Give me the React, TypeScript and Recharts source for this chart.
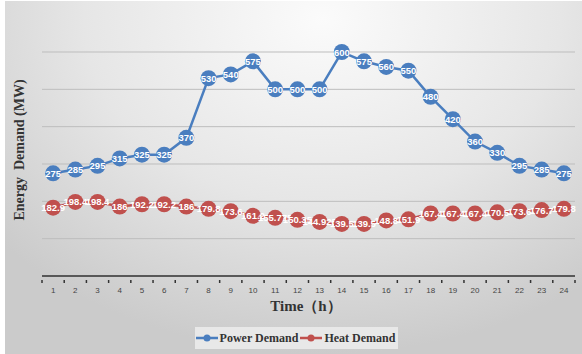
import { CartesianGrid, Line, LineChart, XAxis, YAxis } from "recharts";

const hours = Array.from({ length: 24 }, (_, i) => i + 1);
const powerDemand = [
  275, 285, 295, 315, 325, 325, 370, 530, 540, 575, 500, 500, 500, 600, 575, 560,
  550, 480, 420, 360, 330, 295, 285, 275,
];
const heatDemand = [
  182.9, 198.4, 198.4, 186, 192.2, 192.2, 186, 179.8, 173.6, 161.2, 155.775, 150.35,
  144.925, 139.5, 139.5, 148.8, 151.9, 167.4, 167.4, 167.4, 170.5, 173.6, 176.7, 179.8,
];
const yTicks = [0, 100, 200, 300, 400, 500, 600];
const xTicks = [0.5, ...hours.flatMap((h) => [h, h + 0.5])];

const data = hours.map((hour, i) => ({
  hour,
  power: powerDemand[i],
  heat: heatDemand[i],
}));

const serif = "'Liberation Serif', 'DejaVu Serif', serif";
const sans = "'Liberation Sans', Arial, sans-serif";

function makeDot(color: string) {
  return (props: any) => {
    const { cx, cy, value, index } = props;
    return (
      <g key={`dot-${color}-${index}`}>
        <circle cx={cx} cy={cy} r={8} fill={color} />
        <text
          x={cx}
          y={cy}
          textAnchor="middle"
          dominantBaseline="central"
          fill="#ffffff"
          fontFamily={sans}
          fontWeight="bold"
          fontSize={9.5}
        >
          {value}
        </text>
      </g>
    );
  };
}

function HourTick(props: any) {
  const { x, y, payload } = props;
  const v = payload.value;
  if (Number.isInteger(v)) {
    return (
      <text x={x} y={y + 9} textAnchor="middle" fill="#444" fontFamily={sans} fontSize={8}>
        {v}
      </text>
    );
  }
  return <line x1={x} x2={x} y1={y - 1} y2={y - 4} stroke="#333" strokeWidth={1.5} />;
}

function LegendBox() {
  const item = (color: string, label: string) => (
    <span style={{ display: "inline-flex", alignItems: "center", marginRight: 2 }}>
      <svg width={22} height={10}>
        <line x1={0} x2={22} y1={5} y2={5} stroke={color} strokeWidth={2.5} />
        <circle cx={11} cy={5} r={3.5} fill={color} />
      </svg>
      <span style={{ marginLeft: 2 }}>{label}</span>
    </span>
  );
  return (
    <div
      style={{
        position: "absolute",
        left: 195,
        top: 327,
        width: 203,
        height: 22,
        background: "#e8e8e8",
        display: "flex",
        alignItems: "center",
        justifyContent: "center",
        whiteSpace: "nowrap",
        fontFamily: serif,
        fontWeight: "bold",
        fontSize: 12,
        color: "#333",
      }}
    >
      {item("#4a7ebf", "Power Demand")}
      {item("#c0504d", "Heat Demand")}
    </div>
  );
}

export default function App() {
  return (
    <div
      style={{
        position: "absolute",
        left: 0,
        top: 0,
        width: 582,
        height: 354,
        background: "#ffffff",
      }}
    >
      <div
        style={{
          position: "absolute",
          left: 5,
          top: 1,
          width: 577,
          height: 353,
          background:
            "radial-gradient(ellipse 75% 95% at 55% 5%, #fbfbfb 0%, #e6e6e6 55%, #cbcbcb 100%)",
        }}
      />
      <div style={{ position: "absolute", left: 0, top: 0 }}>
        <LineChart
          width={582}
          height={354}
          data={data}
          margin={{ top: 52, right: 7, bottom: 58, left: 42 }}
        >
          <CartesianGrid vertical={false} stroke="#bdbdbd" strokeWidth={1} />
          <YAxis hide domain={[0, 600]} ticks={yTicks} />
          <XAxis
            dataKey="hour"
            type="number"
            domain={[0.5, 24.5]}
            ticks={xTicks}
            interval={0}
            height={20}
            tickLine={false}
            axisLine={{ stroke: "#333", strokeWidth: 1.5 }}
            tick={<HourTick />}
          />
          <Line
            dataKey="power"
            stroke="#4a7ebf"
            strokeWidth={2.5}
            dot={makeDot("#4a7ebf")}
            isAnimationActive={false}
          />
          <Line
            dataKey="heat"
            stroke="#c0504d"
            strokeWidth={2.5}
            dot={makeDot("#c0504d")}
            isAnimationActive={false}
          />
        </LineChart>
      </div>
      <div
        style={{
          position: "absolute",
          left: 20,
          top: 150,
          transform: "translate(-50%, -50%) rotate(-90deg)",
          whiteSpace: "pre",
          fontFamily: serif,
          fontWeight: "bold",
          fontSize: 14,
          color: "#333",
        }}
      >
        {"Energy  Demand (MW)"}
      </div>
      <div
        style={{
          position: "absolute",
          left: 306,
          top: 306,
          transform: "translate(-50%, -50%)",
          whiteSpace: "nowrap",
          fontFamily: serif,
          fontWeight: "bold",
          fontSize: 15,
          color: "#333",
        }}
      >
        Time（h）
      </div>
      <LegendBox />
    </div>
  );
}
